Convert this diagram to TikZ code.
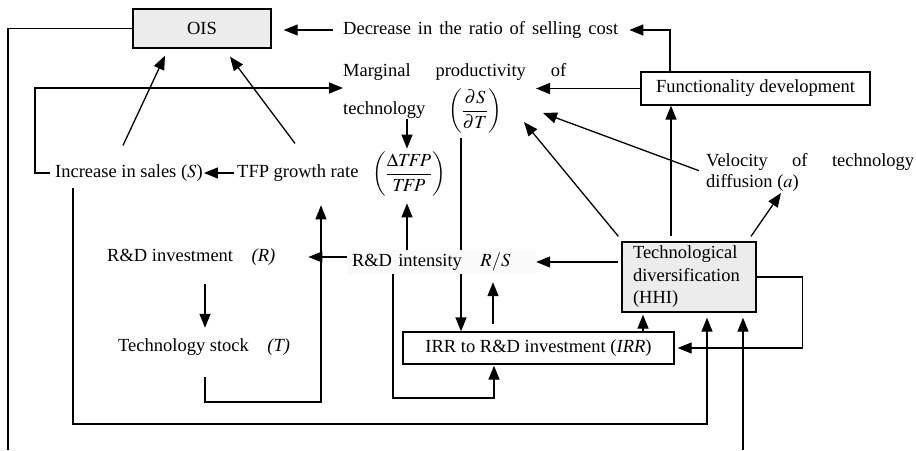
\documentclass[tikz,border=0pt]{standalone}
\usepackage{amsmath}
\usepackage{mathptmx}
\usepackage[no-math]{fontspec}
\setmainfont{Liberation Serif}
\usetikzlibrary{arrows.meta,backgrounds}
\begin{document}
\begin{tikzpicture}[x=1pt,y=-1pt,
  every node/.style={font=\fontsize{18.5}{22.5}\selectfont},
  txt/.style={inner sep=0pt},
  box/.style={draw,line width=1.3pt,inner sep=0pt},
  arr/.style={line width=1.3pt,-{Triangle[length=14pt,width=11pt]}},
  ln/.style={line width=1.3pt}]
\useasboundingbox (0,0) rectangle (916,450);
% nodes
\node[box,fill=gray!15,minimum width=138pt,minimum height=39pt] (ois) at (202,28.5) {OIS};
\node[txt,anchor=west] (dec) at (343,30) {\makebox[275pt][s]{Decrease in the ratio of selling cost}};
\node[box,minimum width=229pt,minimum height=33pt] (func) at (755.5,88.5) {Functionality development};
\node[txt,anchor=west] (marg) at (343,72) {\makebox[223pt][s]{Marginal productivity of}};
\node[txt,anchor=west] (tech) at (343,110) {technology};
\node[txt] (dsdt) at (475,111) {$\left(\dfrac{\partial S}{\partial T}\right)$};
\node[txt,anchor=west] (vel1) at (706,162) {\makebox[208pt][s]{Velocity of technology}};
\node[txt,anchor=west] (vel2) at (706,183) {diffusion ($a$)};
\node[txt,anchor=west] (inc) at (55,173) {Increase in sales ($S$)};
\node[txt,anchor=west] (tfp) at (237,173) {TFP growth rate};
\node[txt] (tfpf) at (409,174) {$\left(\dfrac{\Delta \mathit{TFP}}{\mathit{TFP}}\right)$};
\node[txt,anchor=west] (rdinv) at (107,257) {R\&D investment\quad\textit{(R)}};
\node[txt,anchor=west] (ts) at (118,347) {Technology stock\quad\textit{(T)}};
\node[fill=gray!4,inner xsep=5pt,inner ysep=0pt,text width=179pt,align=left,minimum height=24pt] (rdint) at (441.5,262) {R\&D intensity\quad$R/S$};
\node[box,minimum width=271pt,minimum height=32pt] (irr) at (538.5,348) {IRR to R\&D investment (\textit{IRR})};
\node[box,fill=gray!15,minimum width=134pt,minimum height=70pt,inner xsep=11pt,text width=112pt,align=left] (td) at (689,277) {Technological\\diversification\\(HHI)};
% helper coordinates
\coordinate (fx) at (670,0);
\coordinate (bl) at (8,450);
\coordinate (mR) at (536,0);
\coordinate (mR2) at (543,113);
\coordinate (mB) at (524,122);
\coordinate (fx2) at (671,0);
\coordinate (vB) at (781,193);
\coordinate (x643) at (643,0);
\coordinate (c1) at (73,424);
\coordinate (x707) at (707,0);
\coordinate (b2) at (743,450);
\coordinate (c2) at (393,398);
\coordinate (x494) at (494,0);
\coordinate (x493) at (493,0);
\coordinate (x461) at (461,0);
\coordinate (x205) at (205,0);
\coordinate (c3) at (205,402);
\coordinate (x321) at (321,0);
\coordinate (x407) at (407,0);
\coordinate (ix) at (123,0);
\coordinate (tx) at (295,0);
\coordinate (mW) at (343,88);
% connectors
\draw[arr,shorten <=10pt,shorten >=12pt] (dec.west) -- (dec.west -| ois.east);
\draw[arr] (func.north -| fx) |- ([xshift=11pt]dec.east);
\draw[ln] (ois.west) -| (bl);
\draw[arr] (func.west) -- (func.west -| mR);
\draw[arr] ([xshift=-7pt]vel1.south west) -- (mR2);
\draw[arr] ([xshift=-3pt,yshift=5pt]td.north west) -- (mB);
\draw[arr] ([yshift=5pt]td.north -| fx2) -- (func.south -| fx2);
\draw[arr] ([xshift=62pt,yshift=5pt]td.north) -- (vB);
\draw[arr,shorten <=3pt] (td.west |- rdint.east) -- (rdint.east);
\draw[arr] (td.east) -- ++(46,0) |- ([xshift=3pt]irr.east);
\draw[arr] (irr.north -| x643) -- ([yshift=-2pt]td.south -| x643);
\draw[arr] ([yshift=-6pt]inc.south -| c1) -- (c1) -| ([yshift=-5pt]td.south -| x707);
\draw[arr] (b2) -- ([yshift=-5pt]td.south -| b2);
\draw[arr] (rdint.south -| c2) -- (c2) -| ([yshift=-1pt]irr.south -| x494);
\draw[arr] ([yshift=7pt]irr.north -| x493) -- ([yshift=-8pt]rdint.south -| x493);
\begin{pgfonlayer}{background}
\draw[arr] ([yshift=-5pt]dsdt.south -| x461) -- (irr.north -| x461);
\end{pgfonlayer}
\draw[arr] (rdint.west |- rdinv.east) -- ([xshift=33pt]rdinv.east);
\draw[arr] ([yshift=-18.6pt]rdinv.south -| x205) -- ([yshift=10.6pt]ts.north -| x205);
\draw[arr] ([yshift=-21.6pt]ts.south -| c3) -- (c3) -| ([yshift=-23.7pt]tfp.south -| x321);
\draw[arr] (rdint.north -| x407) -- ([yshift=-7pt]tfpf.south -| x407);
\draw[arr] (tech.south -| x407) -- ([yshift=3pt]tfpf.north -| x407);
\draw[arr,shorten <=3pt,shorten >=1pt] (tfp.west) -- (inc.east);
\draw[arr] ([yshift=19pt]inc.north -| ix) -- ([xshift=-37pt,yshift=-7pt]ois.south);
\draw[arr] ([yshift=21pt]tfp.north -| tx) -- ([xshift=28pt,yshift=-8pt]ois.south);
\draw[arr] ([xshift=-5pt]inc.west) -- ++(-15,0) |- (mW);
\end{tikzpicture}
\end{document}
